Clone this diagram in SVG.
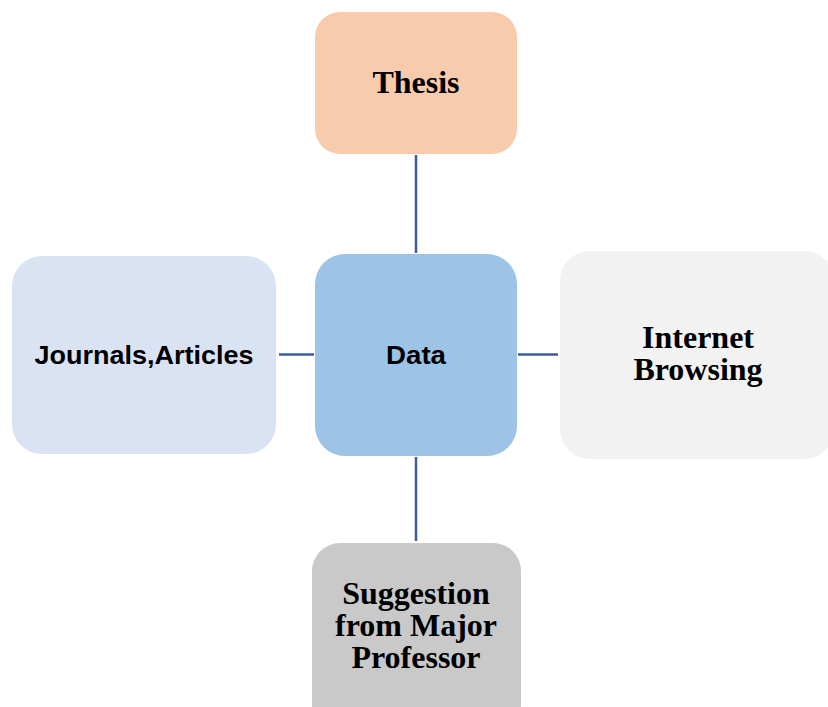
<svg xmlns="http://www.w3.org/2000/svg" width="828" height="707" viewBox="0 0 828 707">
<style>
.serif{font-family:"Liberation Serif","Times New Roman",serif;font-weight:bold;font-size:32px;fill:#000;text-anchor:middle}
.sans{font-family:"Liberation Sans",Arial,sans-serif;font-weight:bold;font-size:26px;fill:#000;text-anchor:middle}
.conn{stroke:#3B5BA5;stroke-width:2.5;fill:none}
</style>
<rect width="828" height="707" fill="#fff"/>
<g id="connectors">
<line class="conn" x1="416" y1="155" x2="416" y2="253"/>
<line class="conn" x1="279" y1="354.5" x2="314" y2="354.5"/>
<line class="conn" x1="518" y1="354.5" x2="558" y2="354.5"/>
<line class="conn" x1="416" y1="457" x2="416" y2="541"/>
</g>
<g id="thesis">
<rect x="315" y="12" width="202" height="142" rx="25" fill="#F8CBAD"/>
<text class="serif" x="416" y="93">Thesis</text>
</g>
<g id="journals">
<rect x="12" y="256" width="264" height="198" rx="30" fill="#DAE3F3"/>
<text class="sans" x="144" y="364" textLength="219" lengthAdjust="spacingAndGlyphs">Journals,Articles</text>
</g>
<g id="data">
<rect x="315" y="254" width="202" height="202" rx="30" fill="#9DC3E6"/>
<text class="sans" x="416" y="364" textLength="60" lengthAdjust="spacingAndGlyphs">Data</text>
</g>
<g id="internet">
<rect x="560" y="251" width="274" height="208" rx="30" fill="#F2F2F2"/>
<text class="serif" x="698" y="348">Internet</text>
<text class="serif" x="698" y="380">Browsing</text>
</g>
<g id="suggestion">
<rect x="312" y="543" width="209" height="190" rx="28" fill="#C9C9C9"/>
<text class="serif" x="416" y="604">Suggestion</text>
<text class="serif" x="416" y="636">from Major</text>
<text class="serif" x="416" y="668">Professor</text>
</g>
</svg>
